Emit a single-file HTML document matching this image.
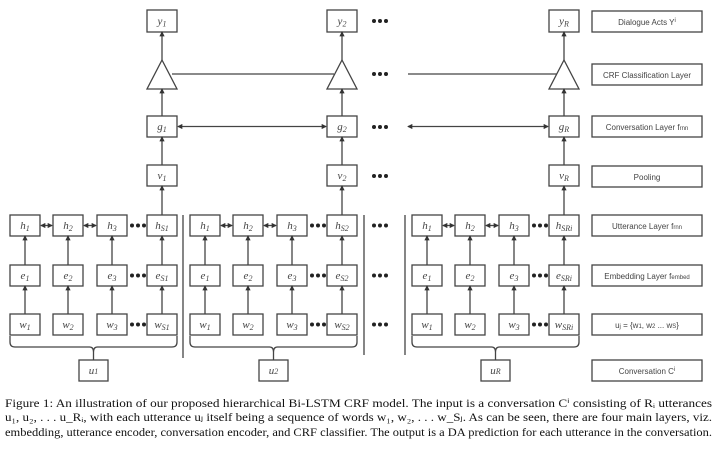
<!DOCTYPE html>
<html><head><meta charset="utf-8"><style>
body{margin:0;background:#fff;width:720px;height:451px;overflow:hidden}
svg{position:absolute;left:0;top:0}
.b{fill:#fff;stroke:#444;stroke-width:1.3}
.l{stroke:#444;stroke-width:1.3;fill:none}
.t{font-family:"Liberation Serif",serif;font-style:italic;font-size:11px;fill:#444}
.s{font-family:"Liberation Sans",sans-serif;font-size:8px;fill:#444}
.c{font-family:"Liberation Serif",serif;font-size:11.6px;fill:#111}
</style></head><body>
<svg id="g" width="720" height="451" viewBox="0 0 720 451">
<defs><marker id="a" viewBox="0 0 6 6" refX="5" refY="3" markerWidth="4" markerHeight="4" orient="auto-start-reverse"><path d="M0,0L6,3L0,6z" fill="#333"/></marker></defs>
</svg>
<script>
var s=document.getElementById('g'),h='';
function box(x,y,w,ht,t,cls){h+='<rect class="b" x="'+x+'" y="'+y+'" width="'+w+'" height="'+ht+'"/>';h+='<text class="'+(cls||'t')+'" x="'+(x+w/2)+'" y="'+(y+ht/2+3.5)+'" text-anchor="middle">'+t+'</text>';}
function ln(x1,y1,x2,y2,m){h+='<line class="l" x1="'+x1+'" y1="'+y1+'" x2="'+x2+'" y2="'+y2+'"'+(m==1?' marker-end="url(#a)"':m==2?' marker-start="url(#a)" marker-end="url(#a)"':'')+'/>';}
function dots(x,y){for(var i=0;i<3;i++)h+='<circle cx="'+(x+i*6)+'" cy="'+y+'" r="2" fill="#222"/>';}
var groups=[[10,53,97,147],[190,233,277,327],[412,455,499,549]];
var subs=[['1','2','3','S1'],['1','2','3','S2'],['1','2','3','SRi']];
var us=['u<tspan font-size="8">1</tspan>','u<tspan font-size="8">2</tspan>','u<tspan font-size="8">R</tspan>'];
groups.forEach(function(g,k){
 var rows=[[215,'h'],[265,'e'],[314,'w']];
 rows.forEach(function(r,ri){
  g.forEach(function(x,i){box(x,r[0],30,21,r[1]+'<tspan font-size="8" dy="2">'+subs[k][i]+'</tspan>');
   if(ri<2)ln(x+15,r[0]+(ri==0?50:49),x+15,r[0]+21,1);
  });
  dots(g[2]+35,r[0]+10.5);
  if(ri==0){ln(g[0]+31,225.5,g[1]-1,225.5,2);ln(g[1]+31,225.5,g[2]-1,225.5,2);}
 });
 var L=g[0],R=g[3]+30,m=(L+R)/2;
 h+='<path class="l" d="M'+L+',336 v6 q0,5 5,5 H'+(m-4)+' q4,0 4,5 q0,-5 4,-5 H'+(R-5)+' q5,0 5,-5 v-6"/>';
 ln(m,352,m,360);
 box(m-14.5,360,29,21,us[k]);
});
ln(183,215,183,358);ln(364,215,364,355);ln(405,215,405,355);
var cols=[[162,'1'],[342,'2'],[564,'R']];
cols.forEach(function(c){var x=c[0];
 box(x-15,10,30,22,'y<tspan font-size="8" dy="2">'+c[1]+'</tspan>');
 h+='<polygon class="b" points="'+x+',60 '+(x+15)+',89 '+(x-15)+',89"/>';
 ln(x,60,x,32,1);
 box(x-15,116,30,21,'g<tspan font-size="8" dy="2">'+c[1]+'</tspan>');
 ln(x,116,x,89,1);
 box(x-15,165,30,21,'v<tspan font-size="8" dy="2">'+c[1]+'</tspan>');
 ln(x,165,x,137,1);
 ln(x,215,x,186,1);
});
ln(172,74,334,74);ln(408,74,557,74);
ln(178,126.5,326,126.5,2);ln(408,126.5,548,126.5,2);
[21,74,127,176,225.5,275.5,324.5].forEach(function(y){dots(374,y);});
var labels=['Dialogue Acts Y<tspan font-size="6" dy="-3">i</tspan>','CRF Classification Layer','Conversation Layer f<tspan font-size="6">rnn</tspan>','Pooling','Utterance Layer f<tspan font-size="6">rnn</tspan>','Embedding Layer f<tspan font-size="6">embed</tspan>','u<tspan font-size="6">j</tspan> = {w<tspan font-size="6">1</tspan>, w<tspan font-size="6">2</tspan> ... w<tspan font-size="6">S</tspan>}','Conversation C<tspan font-size="6" dy="-3">i</tspan>'];
[11,64,116,166,215,265,314,360].forEach(function(y,i){box(592,y,110,21,labels[i],'s');});
var cap=['Figure 1: An illustration of our proposed hierarchical Bi-LSTM CRF model. The input is a conversation Cⁱ consisting of Rᵢ utterances','u₁, u₂, . . . u_Rᵢ, with each utterance uⱼ itself being a sequence of words w₁, w₂, . . . w_Sⱼ. As can be seen, there are four main layers, viz.','embedding, utterance encoder, conversation encoder, and CRF classifier. The output is a DA prediction for each utterance in the conversation.'];
[407,421,436].forEach(function(y,i){h+='<text class="c" x="5" y="'+y+'" textLength="707" lengthAdjust="spacingAndGlyphs">'+cap[i]+'</text>';});
s.insertAdjacentHTML('beforeend',h);
</script>
</body></html>
